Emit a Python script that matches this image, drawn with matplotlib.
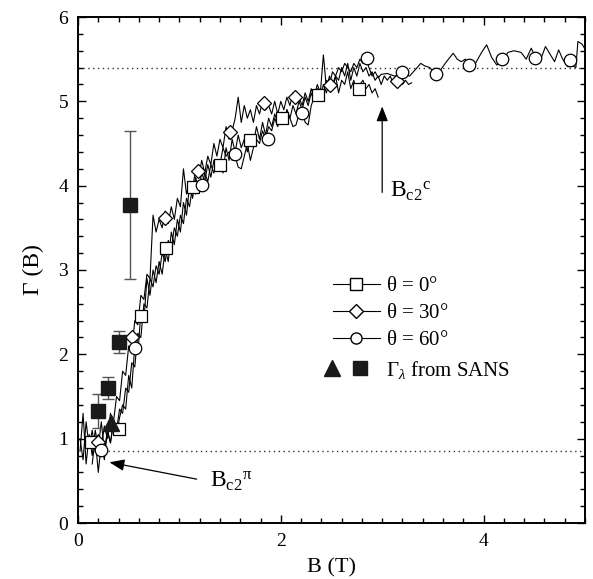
import matplotlib
matplotlib.use('Agg')
import matplotlib.pyplot as plt
import numpy as np
from matplotlib.lines import Line2D
from matplotlib.legend_handler import HandlerTuple
from matplotlib.ticker import MultipleLocator

plt.rcParams['font.family'] = 'Liberation Serif'
plt.rcParams['mathtext.fontset'] = 'custom'
plt.rcParams['mathtext.rm'] = 'Liberation Serif'
plt.rcParams['mathtext.it'] = 'Liberation Serif:italic'
plt.rcParams['mathtext.bf'] = 'Liberation Serif:bold'

# ---------------- data ----------------
# continuous traces (start field, step, values)
trace0_start, trace0_step = 0.02, 0.03
trace0_vals = [0.85, 1.30, 0.70, 1.05, 0.80, 1.10, 0.90, 1.20, 0.85, 1.10,
               0.95, 1.20, 1.05, 1.25, 1.40, 1.35, 1.75, 1.60, 2.10, 2.00,
               2.50, 2.40, 2.90, 2.70, 3.00, 2.85, 3.10, 2.95, 3.25, 3.10,
               3.45, 3.30, 3.60, 3.45, 3.80, 3.65, 4.00, 3.85, 4.10, 3.95,
               4.15, 4.05, 4.25, 4.10, 4.30, 4.20, 4.30, 4.15, 4.45, 4.30,
               4.55, 4.40, 4.60, 4.45, 4.55, 4.40, 4.60, 4.50, 4.70, 4.55,
               4.75, 4.60, 4.80, 4.70, 4.85, 4.75, 4.85, 4.75, 4.90, 4.80,
               4.95, 4.85, 5.00, 4.90, 5.05, 4.95, 5.10, 5.00, 5.15, 5.05,
               5.20, 5.10, 5.25, 5.15, 5.30, 5.10, 5.25, 5.20, 5.35, 5.15,
               5.25, 5.10, 5.20, 5.25, 5.15, 5.20, 5.10, 5.15, 5.05]

trace30_start, trace30_step = 0.02, 0.03
trace30_vals = [1.00, 0.75, 1.20, 0.90, 1.10, 0.85, 1.05, 0.90, 1.15, 1.00,
                1.30, 1.20, 1.50, 1.45, 1.80, 1.75, 2.10, 2.05, 2.40, 2.35,
                2.70, 2.65, 2.95, 2.90, 3.65, 3.45, 3.60, 3.50, 3.70, 3.55,
                3.75, 3.60, 3.85, 3.75, 4.20, 3.90, 4.05, 3.95, 4.20, 4.10,
                4.30, 4.15, 4.35, 4.25, 4.50, 4.35, 4.55, 4.45, 4.70, 4.55,
                4.65, 4.80, 5.05, 4.75, 4.95, 4.80, 4.90, 4.75, 4.95, 4.85,
                5.00, 4.90, 4.95, 4.85, 5.00, 4.85, 5.00, 4.90, 5.05, 4.95,
                5.10, 5.00, 5.05, 4.95, 5.10, 5.00, 5.15, 5.05, 5.20, 5.10,
                5.55, 5.15, 5.30, 5.20, 5.30, 5.25, 5.40, 5.30, 5.45, 5.25,
                5.40, 5.30, 5.45, 5.35, 5.40, 5.30, 5.35, 5.25, 5.30, 5.20,
                5.30, 5.25, 5.30, 5.20, 5.25, 5.30, 5.20, 5.25, 5.20, 5.22]

trace60_start, trace60_step = 0.14, 0.03
trace60_vals = [0.70, 1.00, 0.60, 0.95, 0.75, 1.10, 0.95, 1.20, 1.10, 1.35,
                1.30, 1.60, 1.55, 1.90, 1.85, 2.25, 2.20, 2.60, 2.55, 2.90,
                2.80, 3.05, 2.95, 3.20, 3.10, 3.35, 3.25, 3.50, 3.40, 3.65,
                3.55, 3.85, 3.75, 4.00, 3.90, 4.05, 3.95, 4.15, 4.05, 4.25,
                4.15, 4.30, 4.25, 4.45, 4.35, 4.40, 4.30, 4.35, 4.22, 4.20,
                4.35, 4.50, 4.30, 4.45, 4.55, 4.50, 4.65, 4.55, 4.70, 4.65,
                4.80, 4.70, 4.85, 4.75, 4.90, 4.80, 4.70, 4.72, 4.85, 4.90,
                4.75, 4.72, 4.95, 5.05, 5.00, 5.15, 5.10, 5.25, 5.20, 5.35,
                5.30, 5.40, 5.35, 5.45, 5.40, 5.35, 5.45, 5.40, 5.50, 5.45,
                5.50, 5.40, 5.30, 5.35, 5.28, 5.32]
trace60_hiB = [3.05, 3.12, 3.20, 3.27, 3.33, 3.38, 3.42, 3.47, 3.52, 3.58,
               3.64, 3.70, 3.74, 3.78, 3.82, 3.86, 3.92, 3.98, 4.03, 4.08,
               4.13, 4.18, 4.24, 4.30, 4.37, 4.42, 4.47, 4.52, 4.57, 4.61,
               4.66, 4.70, 4.74, 4.78, 4.83, 4.88, 4.91, 4.93, 4.97, 5.00]
trace60_hiG = [5.33, 5.30, 5.32, 5.30, 5.38, 5.45, 5.42, 5.40, 5.33, 5.38,
               5.48, 5.57, 5.50, 5.47, 5.50, 5.43, 5.45, 5.58, 5.67, 5.52,
               5.43, 5.47, 5.58, 5.60, 5.58, 5.50, 5.63, 5.50, 5.52, 5.65,
               5.55, 5.47, 5.61, 5.50, 5.41, 5.42, 5.40, 5.71, 5.68, 5.62]

# markers
sq_B = [0.13, 0.40, 0.62, 0.87, 1.13, 1.40, 1.70, 2.01, 2.37, 2.77]
sq_G = [0.96, 1.11, 2.46, 3.26, 3.99, 4.25, 4.54, 4.80, 5.08, 5.15]
di_B = [0.20, 0.53, 0.86, 1.18, 1.50, 1.83, 2.14, 2.49, 3.15]
di_G = [0.96, 2.20, 3.62, 4.17, 4.64, 4.98, 5.05, 5.19, 5.24]
ci_B = [0.23, 0.56, 1.22, 1.55, 1.87, 2.21, 2.85, 3.20, 3.53, 3.86, 4.18, 4.51, 4.85]
ci_G = [0.87, 2.07, 4.01, 4.38, 4.55, 4.86, 5.51, 5.35, 5.33, 5.43, 5.50, 5.51, 5.49]

# SANS
sans_sq_B = [0.20, 0.30, 0.40, 0.51]
sans_sq_G = [1.33, 1.60, 2.15, 3.77]
sans_sq_err = [0.20, 0.13, 0.13, 0.88]
sans_tri_B = [0.33]
sans_tri_G = [1.18]

gamma_high = 5.40
gamma_low = 0.85
low_line_start = 0.30

# ---------------- figure ----------------
fig = plt.figure(figsize=(5.93, 5.79), dpi=100)
ax = fig.add_axes([78/593, 1-523/579, 507/593, 506/579])

b0 = trace0_start + trace0_step*np.arange(len(trace0_vals))
b30 = trace30_start + trace30_step*np.arange(len(trace30_vals))
b60 = np.concatenate([trace60_start + trace60_step*np.arange(len(trace60_vals)), trace60_hiB])
g60 = np.concatenate([trace60_vals, trace60_hiG])

lw = 0.8
ax.plot(b0, trace0_vals, color='black', lw=lw, zorder=2)
ax.plot(b30, trace30_vals, color='black', lw=lw, zorder=2)
ax.plot(b60, g60, color='black', lw=lw, zorder=2)

ax.plot([0, 5], [gamma_high, gamma_high], ls=(0, (1, 2.5)), color='#333333', lw=1.0, zorder=1)
ax.plot([low_line_start, 5], [gamma_low, gamma_low], ls=(0, (1, 2.5)), color='#333333', lw=1.0, zorder=1)

mk = dict(ls='none', mfc='white', mec='black', mew=0.9, zorder=3)
ax.plot(sq_B, sq_G, marker='s', ms=9, **mk)
ax.plot(di_B, di_G, marker='D', ms=7.5, **mk)
ax.plot(ci_B, ci_G, marker='o', ms=9, **mk)

ax.errorbar(sans_sq_B, sans_sq_G, yerr=sans_sq_err, fmt='s', ms=10,
            mfc='#1a1a1a', mec='#1a1a1a', ecolor='#555555', elinewidth=1.0,
            capsize=4, capthick=1.0, zorder=4)
ax.plot(sans_tri_B, sans_tri_G, marker='^', ms=11, ls='none', color='#1a1a1a', zorder=4)

# annotations
ap = dict(arrowstyle='-|>,head_length=0.9,head_width=0.35', color='black', lw=0.9,
          shrinkA=0, shrinkB=0)
ax.annotate('', xy=(3.0, 4.94), xytext=(3.0, 3.92), arrowprops=ap)
ax.annotate('', xy=(0.31, 0.72), xytext=(1.17, 0.52), arrowprops=ap)
ax.text(3.08, 3.86, r'$\mathrm{B_{c2}{}^{c}}$', fontsize=17, ha='left', va='baseline')
ax.text(1.30, 0.42, r'$\mathrm{B_{c2}{}^{\pi}}$', fontsize=17, ha='left', va='baseline')

# legends
h0 = Line2D([], [], color='black', lw=0.8, marker='s', ms=8, mfc='white', mec='black')
h30 = Line2D([], [], color='black', lw=0.8, marker='D', ms=7, mfc='white', mec='black')
h60 = Line2D([], [], color='black', lw=0.8, marker='o', ms=8, mfc='white', mec='black')
leg1 = ax.legend([h0, h30, h60], [r'$\mathrm{\theta}$ = 0°', r'$\mathrm{\theta}$ = 30°', r'$\mathrm{\theta}$ = 60°'],
                 loc='upper left', bbox_to_anchor=(0.503, 0.487), frameon=False,
                 fontsize=15, handlelength=2.25, handletextpad=0.3, labelspacing=0.36,
                 borderpad=0, borderaxespad=0)
ax.add_artist(leg1)
ht = Line2D([], [], ls='none', marker='^', ms=11, color='#1a1a1a')
hs = Line2D([], [], ls='none', marker='s', ms=10, color='#1a1a1a')
ax.legend([(ht, hs)], [r'$\Gamma_{\lambda}$ from SANS'],
          handler_map={tuple: HandlerTuple(ndivide=None, pad=0.6)},
          loc='upper left', bbox_to_anchor=(0.485, 0.325), frameon=False,
          fontsize=15, handlelength=2.1, handletextpad=0.9, borderpad=0, borderaxespad=0)

# axes
ax.set_xlim(0, 5)
ax.set_ylim(0, 6)
ax.set_xticks([0, 2, 4])
ax.xaxis.set_minor_locator(MultipleLocator(0.2))
ax.yaxis.set_major_locator(MultipleLocator(1))
ax.yaxis.set_minor_locator(MultipleLocator(0.2))
ax.tick_params(which='both', direction='in', top=True, right=True, labelsize=14, width=1.0)
ax.tick_params(which='major', length=6, pad=7)
ax.tick_params(which='minor', length=3.5)
for s in ax.spines.values():
    s.set_linewidth(1.4)
ax.set_xlabel('B (T)', fontsize=16, labelpad=6)
ax.set_ylabel('Γ (B)', fontsize=17, labelpad=10)

fig.savefig('out.png', dpi=100)
